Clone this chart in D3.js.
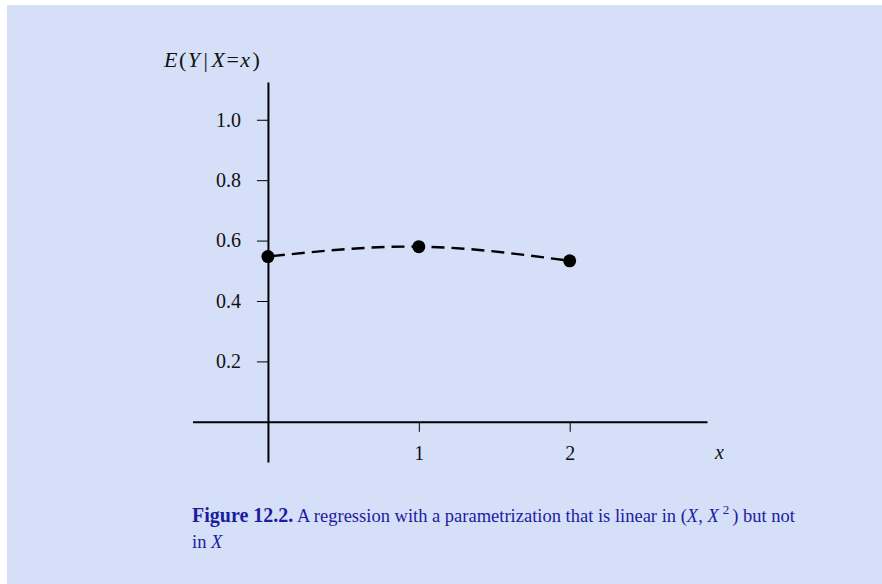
<!DOCTYPE html>
<html>
<head>
<meta charset="utf-8">
<script src="https://cdn.jsdelivr.net/npm/d3@7"></script>
<style>
  body { margin: 0; background: #fff; }
  svg { display: block; }
  .tick text { font-family: "Liberation Serif", serif; font-size: 20px; fill: #111; }
</style>
</head>
<body>
<svg id="chart" width="882" height="584"></svg>
<script>
// data
const xValues = [0, 1, 2];
const yValues = [0.547, 0.580, 0.533];
const xTicks = [1, 2];
const yTicks = [0.2, 0.4, 0.6, 0.8, 1.0];
const xExtent = [-0.5, 2.91];
const yExtent = [-0.133, 1.125];

const svg = d3.select("#chart");

// panel background
svg.append("rect")
  .attr("x", 7).attr("y", 5)
  .attr("width", 875).attr("height", 579)
  .attr("fill", "#d5dff7");

const x = d3.scaleLinear().domain(xExtent).range([192.5, 707]);
const y = d3.scaleLinear().domain(yExtent).range([462, 82]);

// y axis, sits on x = 0
const yAxis = svg.append("g")
  .attr("transform", `translate(${x(0)},0)`)
  .call(d3.axisLeft(y).tickValues(yTicks).tickFormat(d3.format(".1f"))
    .tickSize(11).tickSizeOuter(0).tickPadding(16));
yAxis.select(".domain").attr("stroke", "#000").attr("stroke-width", 2);
yAxis.selectAll(".tick line").attr("stroke", "#000").attr("stroke-width", 1);

// x axis, sits on y = 0
const xAxis = svg.append("g")
  .attr("transform", `translate(0,${y(0)})`)
  .call(d3.axisBottom(x).tickValues(xTicks).tickFormat(d3.format("d"))
    .tickSize(10).tickSizeOuter(0).tickPadding(14));
xAxis.select(".domain").attr("stroke", "#000").attr("stroke-width", 2);
xAxis.selectAll(".tick line").attr("stroke", "#000").attr("stroke-width", 1);

const pts = xValues.map((d, i) => [d, yValues[i]]);

// dashed regression curve
svg.append("path")
  .datum(pts)
  .attr("fill", "none")
  .attr("stroke", "#000")
  .attr("stroke-width", 2.4)
  .attr("stroke-dasharray", "13,7")
  .attr("stroke-dashoffset", -4)
  .attr("d", d3.line().x(d => x(d[0])).y(d => y(d[1])).curve(d3.curveNatural));

svg.selectAll("circle.pt")
  .data(pts)
  .join("circle")
  .attr("class", "pt")
  .attr("cx", d => x(d[0]))
  .attr("cy", d => y(d[1]))
  .attr("r", 6.5)
  .attr("fill", "#000");

// axis labels
const serif = "'Liberation Serif', serif";
const yl = svg.append("text")
  .attr("x", 164).attr("y", 67)
  .attr("font-family", serif).attr("font-size", 22)
  .attr("letter-spacing", 1.5).attr("fill", "#111");
yl.append("tspan").attr("font-style", "italic").text("E");
yl.append("tspan").text("(");
yl.append("tspan").attr("font-style", "italic").text("Y");
yl.append("tspan").attr("dx", 2).text("|");
yl.append("tspan").attr("dx", 2).attr("font-style", "italic").text("X");
yl.append("tspan").text("=");
yl.append("tspan").attr("font-style", "italic").text("x");
yl.append("tspan").attr("dx", 1).text(")");

svg.append("text")
  .attr("x", 715).attr("y", 459)
  .attr("font-family", serif).attr("font-size", 20)
  .attr("font-style", "italic").attr("fill", "#111")
  .text("x");

// caption
const capColor = "#1c1ca0";
const capSize = 18.5;
const c1 = svg.append("text")
  .attr("x", 192).attr("y", 522)
  .attr("font-family", serif).attr("font-size", capSize).attr("fill", capColor);
c1.append("tspan").attr("font-weight", "bold").attr("font-size", 20).text("Figure 12.2.");
c1.append("tspan").text(" A regression with a parametrization that is linear in (");
c1.append("tspan").attr("font-style", "italic").text("X");
c1.append("tspan").text(", ");
c1.append("tspan").attr("font-style", "italic").text("X");
c1.append("tspan").attr("font-size", 13).attr("dx", 4).attr("dy", -8).text("2");
c1.append("tspan").attr("dx", 3).attr("dy", 8).text(") but not");

const c2 = svg.append("text")
  .attr("x", 192).attr("y", 548)
  .attr("font-family", serif).attr("font-size", capSize).attr("fill", capColor);
c2.append("tspan").text("in ");
c2.append("tspan").attr("font-style", "italic").text("X");
</script>
</body>
</html>
